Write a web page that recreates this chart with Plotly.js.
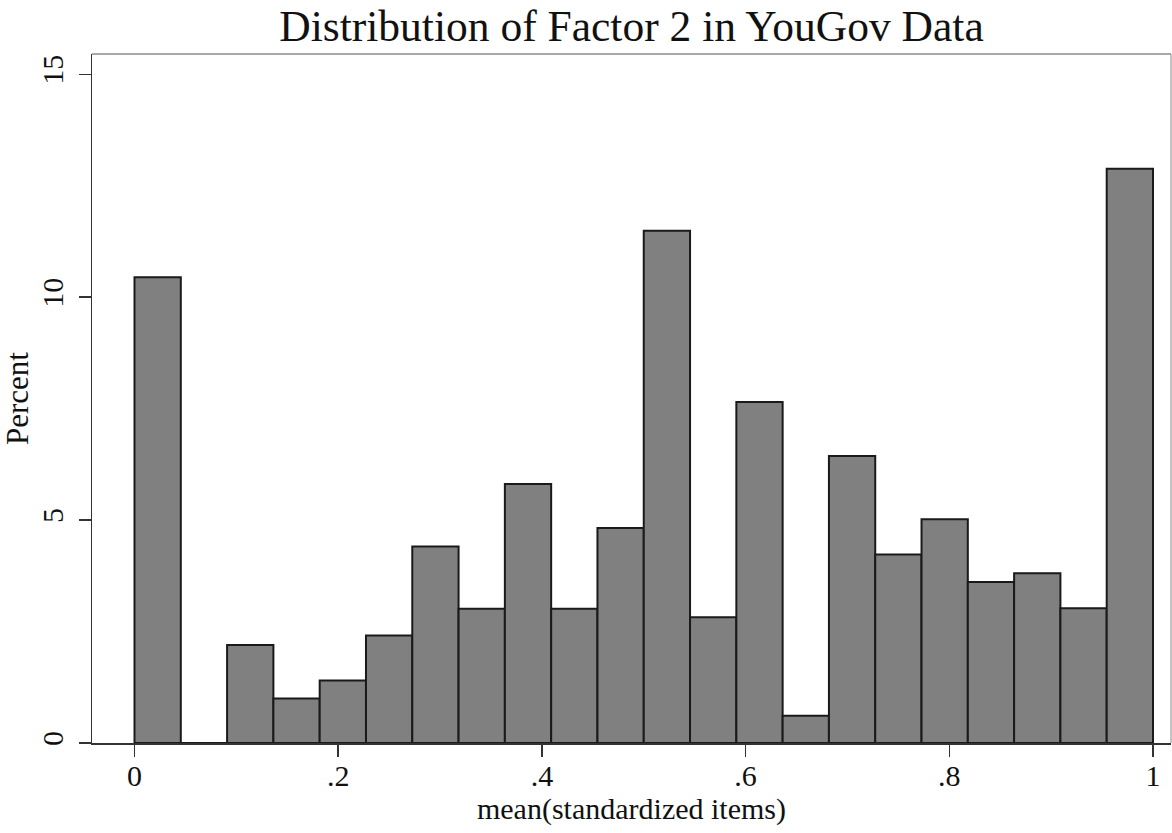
<!DOCTYPE html>
<html>
<head>
<meta charset="utf-8">
<script src="https://cdn.plot.ly/plotly-3.0.1.min.js"></script>
<style>
  html, body { margin: 0; padding: 0; background: #ffffff; }
  #chart { width: 1172px; height: 833px; }
</style>
</head>
<body>
<div id="chart"></div>
<script>
// Histogram of mean(standardized items): 22 equal bins on [0, 1]
const binCount = 22;
const binLow = 0;
const binHigh = 1;
const percent = [10.45, 0, 2.2, 1.0, 1.4, 2.41, 4.41, 3.01, 5.81, 3.01, 4.82,
                 11.49, 2.82, 7.65, 0.61, 6.44, 4.23, 5.02, 3.61, 3.81, 3.02, 12.88];
const xTickVals = [0, 0.2, 0.4, 0.6, 0.8, 1];
const xTickText = ['0', '.2', '.4', '.6', '.8', '1'];
const yTickVals = [0, 5, 10, 15];
const yTickText = ['0', '5', '10', '15'];
const titleText = 'Distribution of Factor 2 in YouGov Data';
const xTitle = 'mean(standardized items)';
const yTitle = 'Percent';

const binWidth = (binHigh - binLow) / binCount;
const binCenters = percent.map((_, i) => binLow + binWidth * (i + 0.5));

const FONT = '"Liberation Serif", "Times New Roman", serif';

const trace = {
  type: 'bar',
  x: binCenters,
  y: percent,
  width: binWidth,
  marker: { color: '#808080', line: { color: '#1a1a1a', width: 2 } },
  hoverinfo: 'x+y'
};

const layout = {
  width: 1172,
  height: 833,
  margin: { l: 92, r: 1, t: 54, b: 90 },
  paper_bgcolor: '#ffffff',
  plot_bgcolor: '#ffffff',
  showlegend: false,
  font: { family: FONT, color: '#111111' },
  title: {
    text: titleText,
    font: { family: FONT, size: 43.5, color: '#111111' },
    xref: 'paper', x: 0.5, xanchor: 'center',
    yref: 'container', y: 0.969, yanchor: 'middle'
  },
  xaxis: {
    range: [-0.04173, 1.01767],
    tickvals: xTickVals,
    ticktext: xTickText,
    ticks: 'outside', ticklen: 12, tickwidth: 1.5, tickcolor: '#333333',
    ticklabelstandoff: -7,
    showline: true, linecolor: '#333333', linewidth: 1.5,
    showgrid: false, zeroline: false,
    tickfont: { family: FONT, size: 30, color: '#111111' },
    title: { text: xTitle, font: { family: FONT, size: 30, color: '#111111' }, standoff: 4 }
  },
  yaxis: {
    range: [0, 15.455],
    tickvals: yTickVals,
    ticktext: yTickText,
    tickangle: -90,
    ticks: 'outside', ticklen: 12, tickwidth: 1.5, tickcolor: '#333333',
    ticklabelstandoff: 4,
    showline: true, linecolor: '#333333', linewidth: 1.5,
    showgrid: false, zeroline: false,
    tickfont: { family: FONT, size: 30, color: '#111111' },
    title: { text: yTitle, font: { family: FONT, size: 31, color: '#111111' }, standoff: 6 }
  },
  shapes: [
    { type: 'line', xref: 'paper', yref: 'paper', x0: 0, x1: 1, y0: 1, y1: 1,
      line: { color: '#555555', width: 1.2 } },
    { type: 'line', xref: 'paper', yref: 'paper', x0: 1, x1: 1, y0: 0, y1: 1,
      line: { color: '#888888', width: 1 } }
  ]
};

Plotly.newPlot('chart', [trace], layout, { displayModeBar: false, staticPlot: true });
</script>
</body>
</html>
